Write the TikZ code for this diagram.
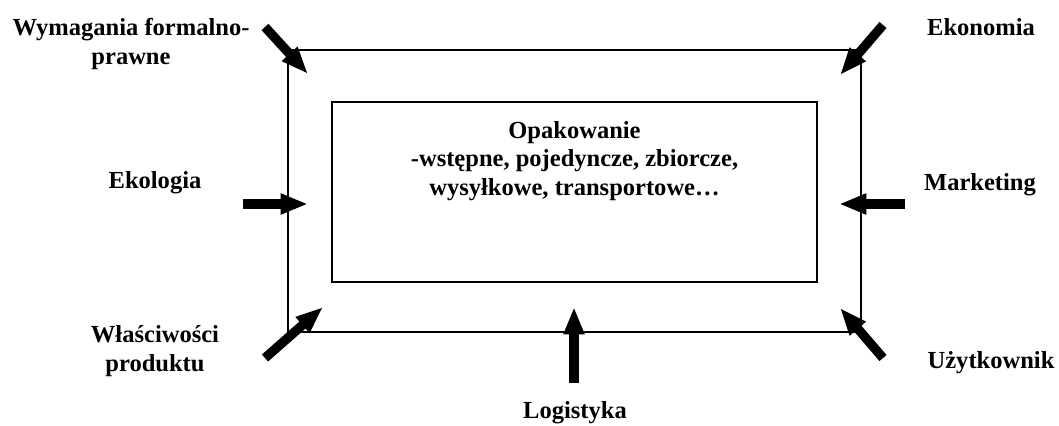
\documentclass[tikz,border=0pt]{standalone}
\usepackage{fontspec}
\setmainfont{Liberation Serif}
\usetikzlibrary{arrows.meta}
\tikzset{
  frame/.style={draw=black, line width=1.5pt},
  force/.style={draw=black, line width=7pt, -{Triangle[length=20.5pt,width=14.5pt]}},
  lbl/.style={font=\bfseries\fontsize{18.4}{21.2}\selectfont, align=center, anchor=base, inner sep=0pt},
}
\begin{document}
\begin{tikzpicture}[x=0.75pt,y=-0.75pt]
\useasboundingbox (0,0) rectangle (1059,425);
% frames
\draw[frame] (288,50) rectangle (861,332);
\node[frame, minimum width=485*0.75pt, minimum height=180*0.75pt, inner sep=0pt] (box) at (574.5,192) {};
% labels (multi-line: positioned at the baseline of the last line)
\node[lbl] (wym) at (131,64) {Wymagania formalno-\\prawne};
\node[lbl] (eko) at (981,35) {Ekonomia};
\node[lbl] (ekol) at (155,188) {Ekologia};
\node[lbl] (mark) at (980,190) {Marketing};
\node[lbl] (wlas) at (155,371) {Właściwości\\produktu};
\node[lbl] (uzyt) at (991,368) {Użytkownik};
\node[lbl] (log) at (575,418) {Logistyka};
\node[lbl] (opak) at (574.5,195) {Opakowanie\\-wstępne, pojedyncze, zbiorcze,\\wysyłkowe, transportowe…};
% arrow endpoints
\coordinate (tlA) at (265,27);  \coordinate (tlB) at (308,74);
\coordinate (trA) at (883,25);  \coordinate (trB) at (840,75);
\coordinate (lA) at (243,204);  \coordinate (lB) at (308,204);
\coordinate (rA) at (905,204);  \coordinate (rB) at (839,204);
\coordinate (blA) at (265,358); \coordinate (blB) at (323,307);
\coordinate (brA) at (883,358); \coordinate (brB) at (840,308);
\coordinate (bA) at (574,383);  \coordinate (bB) at (574,307);
\draw[force] (tlA) -- (tlB);
\draw[force] (trA) -- (trB);
\draw[force] (lA) -- (lB);
\draw[force] (rA) -- (rB);
\draw[force] (blA) -- (blB);
\draw[force] (brA) -- (brB);
\draw[force] (bA) -- (bB);
\end{tikzpicture}
\end{document}
